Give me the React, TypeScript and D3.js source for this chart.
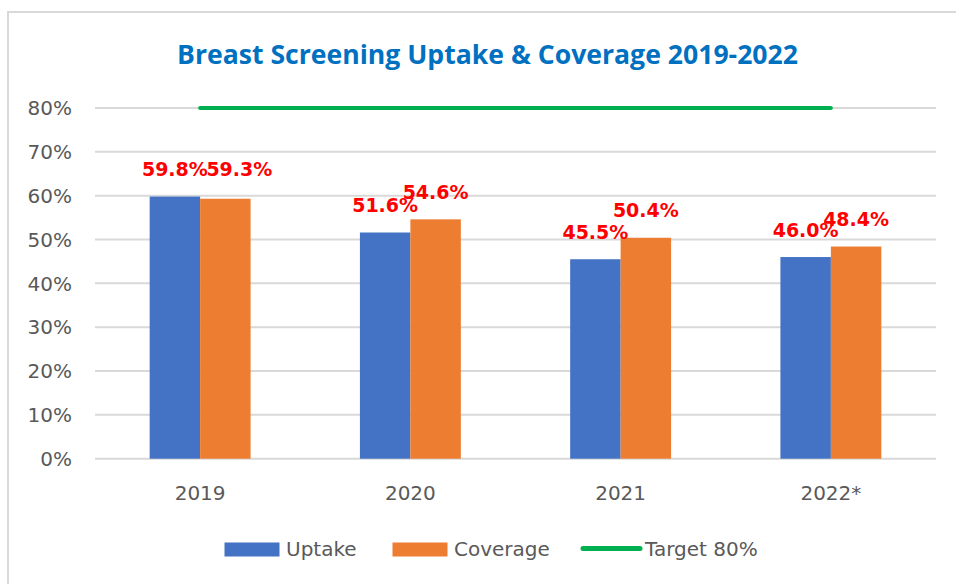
import React from "react";
import * as d3 from "d3";

const categories = ["2019", "2020", "2021", "2022*"];
const uptake = [59.8, 51.6, 45.5, 46.0];
const coverage = [59.3, 54.6, 50.4, 48.4];
const target = [80, 80, 80, 80];
const yTicks = [0, 10, 20, 30, 40, 50, 60, 70, 80];
const seriesNames = ["Uptake", "Coverage"];

// hand-nudged labels (Excel positioned a couple of them manually)
const labelShift: Record<string, [number, number]> = {
  "Coverage-2019": [14, -2],
};

const W = 956, H = 584;
const left = 95, right = 936, top = 108, bottom = 458.7;
const colors = ["#4472C4", "#ED7D31"];
const green = "#00B050";
const gray = "#595959";
const font = "'DejaVu Sans', sans-serif";

export default function App() {
  const x0 = d3.scaleBand<string>()
    .domain(categories)
    .range([left, right])
    .paddingInner(0.52)
    .paddingOuter(0.26);

  const x1 = d3.scaleBand<string>()
    .domain(seriesNames)
    .range([0, x0.bandwidth()]);

  const y = d3.scaleLinear().domain([0, 80]).range([bottom, top]);

  const values = [uptake, coverage];

  const line = d3.line<number>()
    .x((_, i) => (x0(categories[i]) as number) + x0.bandwidth() / 2)
    .y(d => y(d));

  return (
    <svg width={W} height={H} style={{ position: "absolute", left: 0, top: 0, background: "#fff" }}>
      <rect x={8} y={12} width={1000} height={700} fill="#fff" stroke="#D9D9D9" strokeWidth={2} />

      <text x={487.5} y={64} textAnchor="middle" fill="#0070C0"
        style={{ font: "bold 26.6px 'Open Sans', sans-serif" }}>
        Breast Screening Uptake &amp; Coverage 2019-2022
      </text>

      {/* grid + y labels */}
      {yTicks.map(t => (
        <g key={t}>
          <line x1={left} x2={right} y1={y(t)} y2={y(t)} stroke="#D9D9D9" strokeWidth={2} />
          <text x={72} y={y(t)} dy="0.36em" textAnchor="end" fill={gray}
            style={{ fontFamily: font, fontSize: 20 }}>{t}%</text>
        </g>
      ))}

      {/* bars */}
      {seriesNames.map((s, si) => (
        <g key={s}>
          {categories.map((c, ci) => {
            const bx = (x0(c) as number) + (x1(s) as number);
            const v = values[si][ci];
            return (
              <rect key={c} x={bx} y={y(v)} width={x1.bandwidth()} height={y(0) - y(v)} fill={colors[si]} />
            );
          })}
        </g>
      ))}

      {/* target line */}
      <path d={line(target) || ""} fill="none" stroke={green} strokeWidth={4} strokeLinecap="round" />

      {/* data labels */}
      {seriesNames.map((s, si) => (
        <g key={s + "-lbl"}>
          {categories.map((c, ci) => {
            const v = values[si][ci];
            const sh = labelShift[s + "-" + c] || [0, 0];
            const cx = (x0(c) as number) + (x1(s) as number) + x1.bandwidth() / 2;
            return (
              <text key={c} x={cx + sh[0]} y={y(v) - 20.5 + sh[1]} textAnchor="middle" fill="#FF0000"
                style={{ fontFamily: font, fontSize: 19, fontWeight: "bold" }}>
                {v.toFixed(1)}%
              </text>
            );
          })}
        </g>
      ))}

      {/* x labels */}
      {categories.map(c => (
        <text key={c} x={(x0(c) as number) + x0.bandwidth() / 2} y={500} textAnchor="middle" fill={gray}
          style={{ fontFamily: font, fontSize: 20 }}>{c}</text>
      ))}

      {/* legend */}
      <g style={{ fontFamily: font, fontSize: 20 }} fill={gray}>
        <rect x={224.5} y={542.5} width={55} height={14} fill={colors[0]} />
        <text x={286} y={556}>{seriesNames[0]}</text>
        <rect x={392.5} y={542.5} width={55} height={14} fill={colors[1]} />
        <text x={454} y={556}>{seriesNames[1]}</text>
        <line x1={583} x2={640} y1={548.5} y2={548.5} stroke={green} strokeWidth={5} strokeLinecap="round" />
        <text x={645} y={556}>Target 80%</text>
      </g>
    </svg>
  );
}
